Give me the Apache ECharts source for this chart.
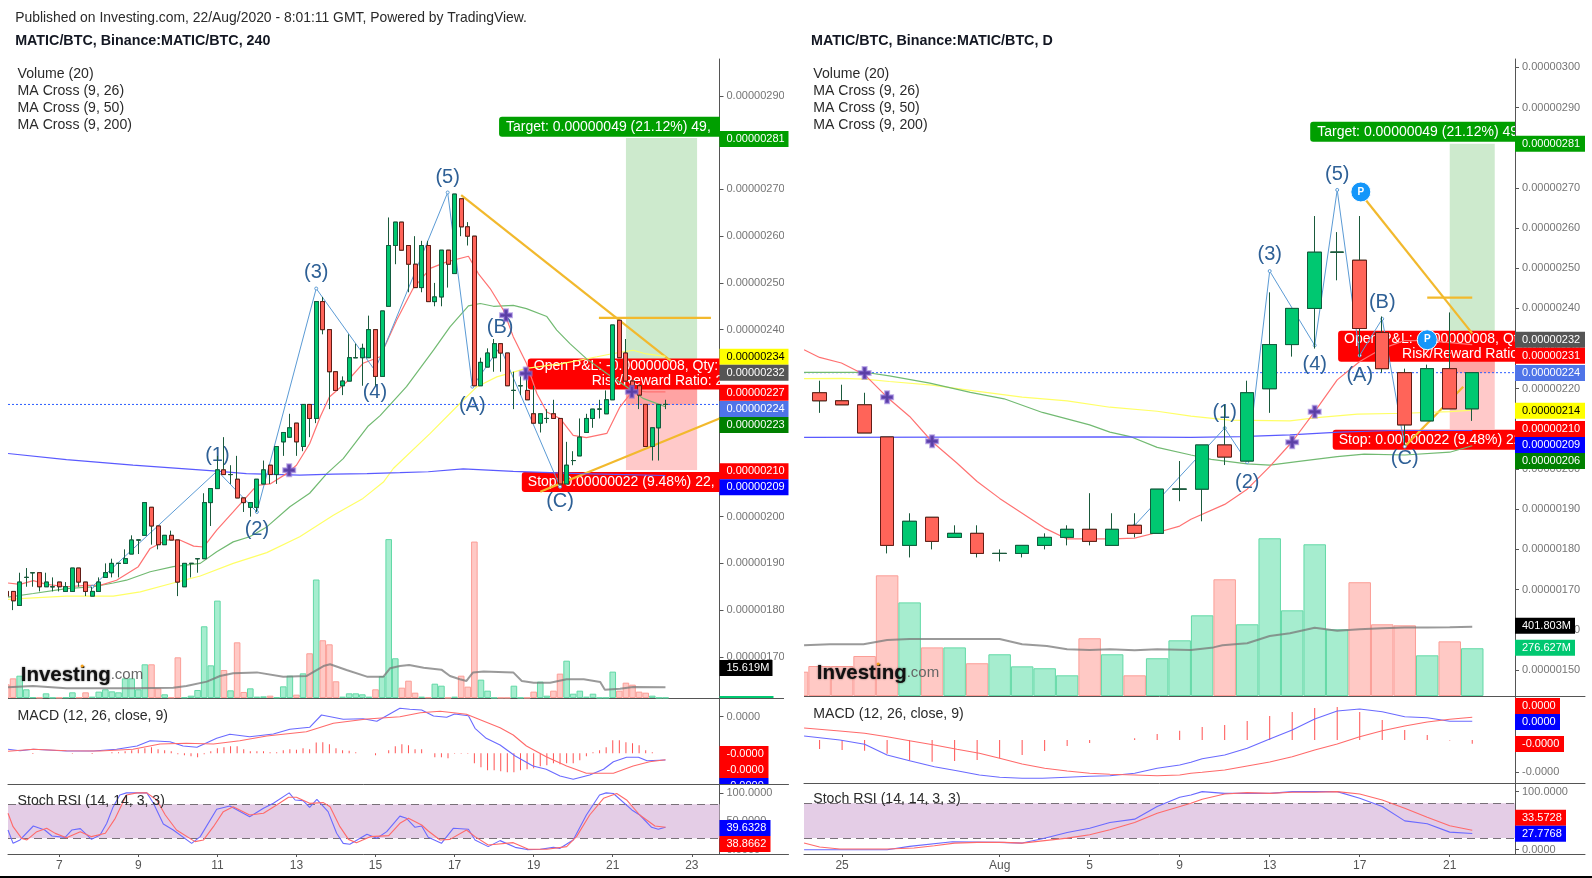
<!DOCTYPE html>
<html><head><meta charset="utf-8">
<style>html,body{margin:0;padding:0;background:#fff}#c{width:1592px;height:878px}</style>
<script src="https://cdn.jsdelivr.net/npm/echarts@6/dist/echarts.min.js"></script>
</head><body><div id="c"></div>
<script>
// ---------- LEFT CHART (240 min), prices in satoshi (1e-8 BTC) ----------
const leftDayTicks=[8,20,32,44,56,68,80,92,104];
const leftDayLabels=['7','9','11','13','15','17','19','21','23'];
const leftPriceTicks=[170,180,190,200,210,220,230,240,250,260,270,280,290];
const leftCandles=[[184,183,183,185],[184,182,180,184],[181,186,181,188],[187,187,185,189],[188,188,185,188],[188,185,184,188],[185,186,185,188],[185,185,184,187],[186,185,184,186],[184,185,184,186],[184,189,184,189],[189,186,185,189],[186,184,183,186],[183,184,183,185],[184,186,184,187],[187,188,187,190],[188,190,187,191],[190,190,187,190],[190,191,190,193],[192,195,192,196],[195,195,192,195],[196,203,196,203],[202,198,194,202],[198,194,193,198],[194,196,194,196],[196,195,195,197],[195,186,183,195],[185,190,185,190],[190,190,187,190],[191,191,188,191],[191,203,191,205],[203,206,198,206],[206,210,206,213],[210,209,209,217],[209,209,207,211],[208,204,204,213],[204,203,201,204],[202,203,200,203],[202,208,201,208],[207,210,207,212],[211,209,207,211],[209,215,207,215],[216,218,213,218],[217,219,217,222],[220,216,213,220],[215,224,214,224],[224,221,217,224],[221,246,220,246],[246,240,239,247],[240,231,223,240],[231,227,227,231],[228,229,226,230],[229,234,229,239],[234,234,234,237],[234,236,228,237],[234,240,234,243],[240,230,228,240],[230,244,230,244],[245,258,245,264],[258,263,254,263],[263,257,257,263],[258,254,248,258],[254,249,249,260],[249,258,248,259],[258,246,246,259],[246,247,245,250],[247,257,245,257],[257,254,249,257],[252,269,252,269],[268,262,260,268],[262,260,258,263],[260,228,228,260],[228,233,228,234],[232,235,232,236],[234,237,231,238],[237,235,231,237],[235,228,228,235],[227,227,223,231],[228,228,226,230],[227,225,225,230],[222,220,220,228],[220,222,218,222],[221,221,220,223],[222,221,221,225],[221,207,207,221],[207,211,207,216],[212,212,211,214],[213,217,213,221],[218,221,218,222],[221,223,219,223],[223,223,221,225],[222,225,222,227],[225,241,225,241],[242,234,234,242],[235,229,229,238],[229,228,228,229],[228,226,223,228],[224,215,215,224],[215,219,212,219],[219,224,212,224],[224,224,223,225]];
const leftVolume=[20,28.7,32.6,12.7,1,.5,6.8,.5,.5,1,8.3,1,8.3,2,9.3,12.7,9.7,8.3,28.7,28.7,12.7,49.2,49.2,14.1,5.4,1,59.4,1,3.4,11.7,104.7,47.7,142.2,40.9,11.2,81.3,8.8,14.1,2,2.4,3.4,1,17,32.6,4.9,36,65.3,173,84.3,78.4,24.4,2,6.8,6.8,5.4,2,12.7,32,232,58,15.1,25.3,7.8,2,1,20.9,18,.5,2,32.6,16.6,228.4,26.8,10.7,.5,.5,.5,18,.5,.5,9.3,23.9,3.4,10.7,35.6,54.5,6.3,10.7,2,6.3,.5,.5,38.5,10.7,22.4,19.5,9.3,7.8,3.4,.5,.5];
const leftVolMA=[[.23,15.6],[4,17.5],[9.1,14.1],[14.2,14.1],[19.2,14.1],[25.3,15.1],[27.3,17.5],[30.4,23.9],[32.4,32.1],[34.4,36],[38,37.4],[42,31],[45.5,32],[48.1,46.6],[49.1,49.2],[51.6,40.9],[54.7,31.2],[57.2,31.2],[58.2,43.3],[59.7,46.8],[61.1,48.2],[63.3,44.3],[66,41.4],[67.3,32.1],[68.8,27.3],[69.8,24.9],[70.8,37.4],[72.4,38.8],[76.9,37.4],[78.2,24.9],[80,22.4],[82.5,22.4],[85,27.3],[87.6,27.3],[90.1,23.4],[90.8,12.2],[93.1,13.6],[95.1,16.1],[100,15.6]];
const leftMA26=[[.23,185.8],[2.05,185.5],[4.07,186.3],[6.1,185.5],[9.1,185],[12.2,185.3],[14.2,185.3],[16.7,186.4],[20,189.3],[21.8,193.2],[24.3,195],[26.3,195],[28.4,193.7],[29.9,193.5],[31.9,197.1],[34.4,201],[38,206.7],[40,207],[42.5,209.2],[44,211],[46,215.6],[47.6,221.3],[49,225.6],[51.6,228.8],[54.1,232.8],[56.7,234.2],[59.2,242],[61.7,248.8],[64.3,253.1],[66.8,254.5],[70.1,255.7],[71.6,252],[73.4,248.8],[75.4,244.2],[76.9,238.5],[78.9,232.8],[80.5,226.3],[82,222.4],[84,221],[86,217.4],[88,216.9],[91.1,217.8],[93.1,223.5],[95.1,227],[97.1,226.7],[100,226.7]];
const leftMA50=[[.23,182.8],[4.07,183.55],[9.1,184.6],[13.2,185],[16.2,185.8],[18.2,186.4],[21.8,188.2],[25.3,189.3],[29.4,190],[31.9,192.5],[34.4,194.6],[36.9,195.7],[39.5,197.8],[43,202.1],[46,205],[48.6,209.2],[51.1,212.4],[54.9,219.4],[56.7,221.6],[60.7,227.8],[64.8,235.6],[67.3,240.6],[70.1,245.1],[71.9,245.6],[73.9,245],[76.9,245.2],[78.9,244.5],[82,242.8],[83.5,239.9],[85.5,237],[88,233.8],[91.1,230.6],[94.1,227.8],[96.6,225.3],[100,223.5]];
const leftMA200=[[.23,182.3],[4.07,182.6],[9.1,183],[16.2,183],[20.3,183.9],[25.3,185.8],[29.4,187.3],[34.4,190],[39.5,192.3],[44.5,195.7],[49.6,200.3],[54.1,203.9],[57.2,207.4],[58.7,210.3],[64.3,217.8],[68.8,224.2],[71.4,227.8],[74.4,229.9],[78.9,231.7],[84.5,232.8],[89.6,234.2],[92.1,234.9],[95.1,235.6],[97.1,234.8],[100,234.3]];
const leftLongMA=[[.23,213.5],[9.1,212.2],[19.2,211],[31.4,209.8],[36.4,209.2],[44.5,208.9],[49.6,209.1],[54.7,209.2],[59.7,209.4],[64,209.6],[69.3,210.2],[76.9,209.7],[87,209.2],[100,208.8]];
const leftWave=[[13,185],[32,209.8],[38,201],[47,248.8],[55.9,231.3],[66.95,269.35],[70.7,227.8],[74.9,236.3],[84,206.4]];
const leftWaveLabels=['','(1)','(2)','(3)','(4)','(5)','(A)','(B)','(C)'];
const leftOrange=[[[69,268.8],[100.8,233.3]],[[89.9,242.5],[106.9,242.5]],[[81,205.3],[108.2,221]]];
const leftCrosses=[[42.9,209.9],[75.8,243.1],[78.8,230.6],[94.9,226.7]];
const leftMacd=[[.23,4],[2.05,2.6],[4.07,4],[9.1,2.3],[13.2,2.3],[16.7,4],[19.8,7.3],[21.8,12.6],[24.8,11.6],[26.8,7.3],[28.9,6],[31.9,15],[33.9,19],[36.9,16.6],[40.5,19.3],[43,24],[46,26],[47.8,38.3],[51.1,34],[54.1,34.6],[56.2,32],[59.7,45],[61.2,44],[63,43.3],[64.8,37.3],[66.8,36],[68,39.3],[70.1,37.6],[71.1,25],[72.8,15],[74.9,8.3],[77.2,-2.7],[79.9,-12.7],[81.9,-16],[84,-22.7],[86,-26],[88.5,-21.7],[90.6,-16],[92.1,-8.4],[94.1,-4],[95.9,-4],[97.2,-7.4],[100,-6.7]];
const leftSignal=[[.23,2],[4.07,4],[9.1,2.6],[14.2,2.3],[19.2,4],[23.3,9.3],[27.3,10],[31.4,9.3],[35.4,12.6],[39.5,17.3],[45.5,21.6],[49.6,30],[54.7,34.3],[59.7,36.6],[62.8,40.6],[65.8,42],[69.8,39],[74.9,25.6],[76.9,18.3],[78.9,7.3],[81.9,-3.4],[85,-12.7],[88,-20],[92.1,-20],[95.1,-12.7],[97.6,-8.4],[100,-6.4]];
const leftHist=[0,0,0,0,-.7,0,0,0,0,0,-.5,0,0,-.7,0,0,1,1,2,3,4,5,6,4,3,2,-1,-2,-3,-4,-1,2,5,6,7,7,4,2,2,2,1,1,3,4,3.5,5,4,10.7,11,9,5,3,2.5,1,0,0,-2,0,3,7,9,8,4,4,0,-4,-4,-5,-.5,-.5,-.5,-10,-14,-17,-17,-18,-19,-19,-17,-16,-15,-13,-12,-10,-11,-10,-10,-7,-3,1,3,6,13,13,11,10,8,3,1,0,0];
const leftStochK=[[.23,34.5],[1,11],[2.05,17],[4.07,41.6],[5.8,34.5],[6.9,24],[8.9,21.6],[9.9,34.5],[11.2,36.9],[12.9,18],[14.2,25.7],[15.2,46],[16.2,75.7],[17.2,96.3],[18.2,100],[21.3,100],[22.3,81.6],[23.8,45],[25.3,34.5],[28.1,11],[29.4,22.8],[31.9,71],[33.9,76.9],[36.9,58],[39,72.8],[40.5,81.6],[42.9,100],[43.8,87.5],[45,86.3],[46,74.5],[47.1,88.7],[48.8,66.9],[50.1,28.7],[51.1,11],[52.1,9.3],[54.7,26.9],[56.2,19.9],[57.7,31.6],[59.7,59],[60.7,55.1],[62,39.3],[63,41.6],[64,21.6],[66,11],[67.8,37.5],[70.1,35.8],[71.1,17],[73.1,5.2],[74.9,15.8],[77.2,3.9],[79,0],[81,.6],[83,3.9],[84,2.2],[86,17],[88,61],[90,96.3],[91,100],[92.1,99],[94.9,69.9],[96.1,61],[97.9,39.3],[98.9,35.8],[100,39.3]];
const leftStochD=[[.23,64],[1,40.4],[2.3,19.8],[3.1,17],[4.6,31.6],[6.1,37.5],[7.4,28.6],[9.1,21],[11.2,31.6],[12.9,22.8],[15,28.7],[16.5,55.1],[18.2,96.3],[19.8,100],[21.3,100],[22.8,87.5],[24.1,61],[25.8,34.5],[28.6,14],[29.9,17],[31.4,40.4],[32.9,66.9],[34.4,75.7],[36.9,61],[39,64],[41,78.7],[42.8,92.2],[44,92.2],[46,81.6],[48.1,82.8],[49.1,75.7],[50.6,40.4],[51.9,18],[53.1,12.2],[55.2,22.8],[58,24.6],[59.7,46.3],[61,55.1],[63,43.4],[64,32.8],[65.8,17],[67.3,18],[69.8,34.5],[71.1,22.8],[73.1,8.1],[76.9,12.2],[79.2,.5],[82,.5],[85,5.2],[86.5,22.8],[88.5,61],[90.6,90.4],[92.6,99],[94.1,87.5],[96.1,61],[98.4,41.6],[100,39.3]];
const leftPosition=[94,104.8];
const leftPriceTagAt=[280.8,234.2,230.8,226.5,223,219.6,209.7,206.3,167.6,159.9];
const leftPriceTagText=['0.00000281','0.00000234','0.00000232','0.00000227','0.00000224','0.00000223','0.00000210','0.00000209','15.619M',''];
const leftMacdTagAt=[-.7,-16.7,-32.7];
const leftMacdTagText=['-0.0000','-0.0000','-0.0000'];
const leftStochTagAt=[38.1,9.9];
const leftStochTagText=['39.6328','38.8662'];
const leftBoxAt=[[74.75,283.4],[78.2,207.4],[79.1,230.5]];

// ---------- RIGHT CHART (daily) ----------
const rightDayTicks=[1,8,12,16,20,24,28];
const rightDayLabels=['25','Aug','5','9','13','17','21'];
const rightPriceTicks=[150,160,170,180,190,200,210,220,230,240,250,260,270,280,290,300];
const rightCandles=[[220,219,218,222],[219,217,214,222],[217,216,216,221],[216,209,209,219],[208,181,179,208],[181,187,178,189],[188,182,180,188],[183,184,183,186],[184,179,178,186],[179,179,177,180],[179,181,178,181],[181,183,180,184],[183,185,181,186],[185,182,181,194],[181,185,181,189],[186,184,183,189],[184,195,184,195],[195,195,192,202],[195,206,187,206],[206,203,201,216],[202,219,202,222],[220,231,214,244],[231,240,228,240],[240,254,230,263],[254,254,247,259],[252,235,228,263],[234,225,224,238],[224,211,206,225],[212,225,212,226],[225,215,215,239],[215,224,212,224]];
const rightVolume=[141,174,174,232,700,543,282,282,190,242,172,161,120,335,242,120,219,323,468,677,416,915,497,880,387,660,416,410,236,317,277];
const rightVolMA=[[-.69,294],[.46,300],[1.95,300],[3,325],[4,331],[8,331],[9,300],[10.1,290],[11,271],[12,267],[12.9,271],[14,265],[15,271],[16.5,267],[17.5,282],[17.9,294],[19,306],[20,348],[20.9,364],[22,396],[23,379],[24,387],[25,393],[26,398],[27,398],[28,399],[29,402]];
const rightMA26=[[-.69,229.7],[0,227.8],[.97,226.4],[2,223.5],[3,217.9],[4,213.1],[5,206.8],[6.1,201.5],[7,196.9],[8,192.7],[9,189],[10,185.3],[11,182.6],[12,182.6],[13,182.6],[14,182.8],[15,184.2],[16,185.8],[16.5,187.5],[18,191.2],[19,195],[20,200.6],[21,206.8],[22,214.3],[23,222.2],[24,226.8],[25,230],[26,232],[27,232],[28,231.5],[29,231]];
const rightMA50=[[-.69,224.1],[2,224.1],[3.1,223.2],[4.9,221.4],[6.7,219.1],[8.2,217.5],[9.9,214.1],[12,211],[12.9,209.2],[13.8,208.1],[15,205.4],[16.5,203.5],[17.4,202.4],[19,201.3],[20,201],[21.3,201.9],[23,203.1],[24.2,203.7],[26,203.5],[28,204.2],[29,205.8]];
const rightMA200=[[-.69,222.5],[1,222.6],[2,222.4],[3.1,221.8],[5,220.9],[6.7,219.6],[9,217.9],[11,217],[12.9,215.4],[15,214.4],[16.5,213.2],[18.2,212.2],[20.9,212],[22.1,212.8],[23.9,213.7],[26,213.9],[28,214.3],[29,214.7]];
const rightLongMA=[[-.69,207.9],[13,208],[16.5,207.9],[18.7,208.1],[20.9,208.5],[23.1,209.2],[25.4,209.6],[29,209.6]];
const rightWave=[[14,186],[18,210.2],[19,201.7],[20,249.3],[22,230.8],[23,269.5],[24,228.3],[25,237.4],[26,205.6]];
const rightWaveLabels=['','(1)','(2)','(3)','(4)','(5)','(A)','(B)','(C)'];
const rightOrange=[[[24.27,267],[29,233.8]],[[27,242.7],[29,242.7]],[[26,205.6],[28.6,220.5]]];
const rightCrosses=[[2,223.9],[3,217.9],[5,206.9],[21,206.7],[22,214.3]];
const rightPins=[[24.05,269],[27,232.2]];
const rightMacd=[[-.69,4],[.9,0],[2,-4.3],[3,-15],[4,-20.7],[5.1,-26.7],[6.1,-30.7],[7.1,-35],[8,-37.3],[9,-38.3],[9.9,-38.3],[11,-37.3],[12,-36.3],[12.9,-35.7],[14,-33.3],[15,-28.3],[16,-25],[16.5,-22.3],[17,-18.7],[18,-15],[19,-8.3],[20,1],[21,10],[22,21],[23,29],[24,31],[25,28.3],[26,23.3],[27,22.3],[28,18.7],[29,18.7]];
const rightSignal=[[-.69,12],[.9,9],[2,6.7],[3,3.3],[4,-.7],[5.1,-5],[6.1,-9.3],[7.1,-13.3],[8,-18.3],[9,-24],[10,-28.3],[11,-31],[12,-33.3],[12.9,-34.3],[14,-35],[15,-35.7],[16,-35],[16.5,-33.3],[17,-32.3],[18,-30],[19,-26],[20,-22],[21,-16.7],[22,-10],[23,-4],[24,3.3],[25,9.3],[26,14],[27,18],[28,20.7],[29,22.7]];
const rightHist=[0,-9,-10,-10.7,-13.7,-20.7,-21.7,-21,-20,-18.3,-15,-11,-6,-3,0,1.7,6,9.3,13,15,19,24,28,32,33,28,20,10,5,-.5,-3.7];
const rightStochK=[[-.69,0],[3,0],[4,5.7],[5.9,13.7],[8,12.6],[9,11.4],[9.9,18.9],[11,29.7],[12,37.1],[12.9,46.9],[14,52.6],[15,74.3],[16,90.3],[16.5,94.3],[17,100],[18,97.1],[19,97.1],[20,97.1],[21,100],[22,100],[23,100],[24,88.6],[25,74.3],[26,49.7],[27,44.6],[28,30.3],[29,27.8]];
const rightStochD=[[-.69,11.4],[0,4.6],[.9,1.2],[3,1.2],[4.2,2.9],[5.1,6.9],[6,11.4],[7,12.6],[8.2,12.6],[9,11.4],[11,20],[12,25.7],[12.9,34.3],[14,46.9],[15,62.9],[16.5,80],[17,86.9],[18,96],[19,98.3],[20,97.1],[21,98.9],[22,98.9],[23,100],[24,96],[25,85.7],[26,71.4],[27,56],[28,41.2],[29,33.6]];
const rightPosition=[28,30];
const rightPriceTagAt=[281,232.2,228.2,223.9,214.5,210,206,202,161,155.5];
const rightPriceTagText=['0.00000281','0.00000232','0.00000231','0.00000224','0.00000214','0.00000210','0.00000209','0.00000206','401.803M','276.627M'];
const rightMacdTagAt=[34,18,-4];
const rightMacdTagText=['0.0000','0.0000','-0.0000'];
const rightStochTagAt=[54.9,27.4];
const rightStochTagText=['33.5728','27.7768'];
const rightBoxAt=[[21.8,284],[22.8,207.3],[23.04,230.6]];

// ---------- shared ----------
const positionLevels={target:281,entry:232,now:224,stop:210};
const stochBand=[20,80];
const stochTicks=[0,50,100];
const boxText=['Target: 0.00000049 (21.12%) 49,','Stop: 0.00000022 (9.48%) 22,','Open P&L: -0.00000008, Qty:','Risk/Reward Ratio: 2'];
const legendLines=['Volume (20)','MA Cross (9, 26)','MA Cross (9, 50)','MA Cross (9, 200)'];
const headerText='Published on Investing.com, 22/Aug/2020 - 8:01:11 GMT, Powered by TradingView.';
const FONT='"Liberation Sans",Arial,sans-serif';
const C={up:'#00c871',down:'#ff6459',upB:'#125c3e',downB:'#641c16',wick:'#1a5a3c',red:'#ff7272',green:'#72ba72',yellow:'#ffff66',blue:'#5a5aff',orange:'#f2b92d',wave:'#5b9bd5',
  axis:'#555',tick:'#757575',macdB:'#6a6aff',macdR:'#ff6a6a',hist:'#ff5252'};

const grid=[],xAxis=[],yAxis=[],series=[],graphic=[];

function priceFmt(v){return (v*1e-8).toFixed(8);}
function tagSeries(xi,yi,at,text,bg,fg,w,z){
  series.push({type:'custom',xAxisIndex:xi,yAxisIndex:yi,clip:true,z:z||30,silent:true,
    data:at.map((v,i)=>[0,v,i]),encode:{x:0,y:1},
    renderItem(p,api){
      const c=api.coord([0,api.value(1)]),i=api.value(2);
      const width=Array.isArray(w)?w[i]:w;
      return {type:'group',children:[
        {type:'rect',shape:{x:c[0],y:c[1]-8,width:width,height:16},style:{fill:bg[i]}},
        {type:'text',style:{x:c[0]+7,y:c[1],text:text[i],fill:fg[i],font:'11px '+FONT,verticalAlign:'middle'}}
      ]};
    }});
}

function buildChart(k){
  const g0=grid.length,y0=yAxis.length;
  const panes=[k.paneP,k.paneM,k.paneS];
  panes.forEach((p,n)=>{
    grid.push({left:k.x0,width:k.x1-k.x0,top:p.top,height:p.bottom-p.top});
    xAxis.push({gridIndex:grid.length-1,type:'value',min:k.xMin,max:k.xMax,position:'bottom',
      axisLine:{show:true,onZero:false,lineStyle:{color:C.axis,width:1}},
      axisTick:{show:n==2,length:3,lineStyle:{color:C.axis},customValues:k.dayTicks},
      axisLabel:{show:n==2,customValues:k.dayTicks,margin:6,fontSize:12,color:'#555',fontFamily:FONT,formatter:v=>k.dayLabels[k.dayTicks.indexOf(v)]},
      splitLine:{show:false}});
    yAxis.push({gridIndex:grid.length-1,type:'value',position:'right',min:p.min,max:p.max,
      axisLine:{show:true,onZero:false,lineStyle:{color:C.axis,width:1}},
      axisTick:{show:true,length:4,lineStyle:{color:C.axis},customValues:p.ticks},
      axisLabel:{customValues:p.ticks,margin:7,fontSize:11,color:C.tick,fontFamily:FONT,formatter:p.fmt,hideOverlap:false},
      splitLine:{show:false}});
  });
  const xP=g0,xM=g0+1,xS=g0+2,yP=y0,yM=y0+1,yS=y0+2;
  // hidden volume axis on the price pane
  yAxis.push({gridIndex:g0,type:'value',show:false,min:0,max:k.volMax,position:'right',splitLine:{show:false}});
  const yV=yAxis.length-1;
  // tag columns
  const tagAxes=panes.map(p=>{
    grid.push({left:k.x1,width:k.tagW,top:p.top,height:p.bottom-p.top});
    xAxis.push({gridIndex:grid.length-1,type:'value',min:0,max:1,axisLine:{show:true,onZero:false,lineStyle:{color:C.axis,width:1}},axisTick:{show:false},axisLabel:{show:false},splitLine:{show:false}});
    yAxis.push({gridIndex:grid.length-1,type:'value',show:false,min:p.min,max:p.max,splitLine:{show:false}});
    return [xAxis.length-1,yAxis.length-1];
  });

  const xOf=i=>k.firstX+i;
  const onP={xAxisIndex:xP,yAxisIndex:yP};
  const lineS=(data,color,axes,z,w)=>({type:'line',...axes,data,showSymbol:false,symbol:'none',z:z||6,silent:true,lineStyle:{color,width:w||1}});

  // position zones
  series.push({type:'line',...onP,data:[],z:1,silent:true,
    markArea:{silent:true,z:1,data:[
      [{coord:[k.position[0],positionLevels.target],itemStyle:{color:'#cdeacd'}},{coord:[k.position[1],positionLevels.entry]}],
      [{coord:[k.position[0],positionLevels.entry],itemStyle:{color:'#ffc9c9'}},{coord:[k.position[1],positionLevels.stop]}],
      [{coord:[k.position[0],positionLevels.entry],itemStyle:{color:'#ffa3a3'}},{coord:[k.position[1],positionLevels.now]}]
    ]}});
  // plot boxes (Target / Stop / Open P&L)
  series.push({type:'custom',...onP,clip:true,z:2,silent:true,
    data:k.boxAt.map((b,i)=>[b[0],b[1],i]),encode:{x:0,y:1},
    renderItem(p,api){
      const c=api.coord([api.value(0),api.value(1)]),i=api.value(2);
      const h=i==2?31:20,bg=i==0?'#009f00':'#ff0000';
      const base={fill:'#fff',font:'14px '+FONT,verticalAlign:'middle'};
      const kids=[{type:'rect',shape:{x:c[0],y:c[1]-h/2,width:420,height:h,r:3},style:{fill:bg}}];
      if(i<2) kids.push({type:'text',style:{...base,x:c[0]+k.boxPad[i],y:c[1],text:boxText[i]}});
      else{
        kids.push({type:'text',style:{...base,x:c[0]+k.boxPad[2],y:c[1]-7.5,text:boxText[2]}});
        kids.push({type:'text',style:{...base,x:c[0]+k.boxPad[3],y:c[1]+7.5,text:boxText[3]}});
      }
      return {type:'group',children:kids};
    }});
  // volume bars
  series.push({type:'bar',xAxisIndex:xP,yAxisIndex:yV,barWidth:k.volW,z:3,silent:true,clip:true,
    data:k.volume.map((v,i)=>{const c=k.candles[i],dn=c[1]<c[0];return {value:[xOf(i),v],itemStyle:{color:dn?'#ffc9c5':'#a6edcf',borderColor:dn?'#fb9e97':'#62d9a6',borderWidth:1}};})});
  series.push(lineS(k.volMA,'rgba(120,120,120,.75)',{xAxisIndex:xP,yAxisIndex:yV},4,2));
  // current price dotted
  series.push({type:'line',...onP,data:[[k.xMin,positionLevels.now],[k.xMax,positionLevels.now]],symbol:'none',z:5,silent:true,lineStyle:{color:'#2a5cff',width:1,type:[2,2]}});
  // orange trend lines
  k.orange.forEach(seg=>series.push(lineS(seg,C.orange,onP,5,2.2)));
  // moving averages
  series.push(lineS(k.ma200,C.yellow,onP,6,1.2));
  series.push(lineS(k.ma50,C.green,onP,6,1.2));
  series.push(lineS(k.long,C.blue,onP,6,1.2));
  series.push(lineS(k.ma26,C.red,onP,6,1.2));
  // wave
  series.push({type:'line',...onP,z:6,silent:true,symbol:'circle',symbolSize:3,showSymbol:true,
    lineStyle:{color:C.wave,width:1},itemStyle:{color:'#fff',borderColor:C.wave,borderWidth:1},
    data:k.wave.map((w,i)=>({value:w,label:{show:!!k.waveLabels[i],formatter:k.waveLabels[i],position:k.wavePos[i][0],distance:k.wavePos[i][1],color:'#2e6096',fontSize:20,fontFamily:FONT}}))});
  // candles: wick layer + body layer
  series.push({type:'candlestick',...onP,z:7,barWidth:k.bodyW,silent:true,clip:true,
    data:k.candles.map((c,i)=>[xOf(i),c[0],c[1],c[2],c[3]]),
    itemStyle:{color:C.wick,color0:C.wick,borderColor:C.wick,borderColor0:C.wick,borderColorDoji:C.wick,borderWidth:1}});
  series.push({type:'candlestick',...onP,z:8,barWidth:k.bodyW,silent:true,clip:true,
    data:k.candles.map((c,i)=>[xOf(i),c[0],c[1],Math.min(c[0],c[1]),Math.max(c[0],c[1])]),
    itemStyle:{color:C.up,color0:C.down,borderColor:C.upB,borderColor0:C.downB,borderColorDoji:C.wick,borderWidth:1}});
  // crosses
  series.push({type:'scatter',...onP,z:9,silent:true,symbol:'path://M4 0h4v4h4v4h-4v4h-4v-4h-4v-4h4z',symbolSize:12,
    data:k.crosses,itemStyle:{color:'#5a3fa5',opacity:1,borderColor:'rgba(140,110,215,.55)',borderWidth:2}});
  if(k.pins) series.push({type:'scatter',...onP,z:10,silent:true,symbolSize:20,data:k.pins,
    itemStyle:{color:'#1496fa',opacity:1,borderColor:'#fff',borderWidth:1},
    label:{show:true,position:'inside',formatter:'P',color:'#fff',fontWeight:'bold',fontSize:10,fontFamily:FONT}});
  // price column tags
  tagSeries(tagAxes[0][0],tagAxes[0][1],k.priceTagAt,k.priceTagText,k.priceTagBg,k.priceTagFg,k.priceTagW);

  // MACD
  const onM={xAxisIndex:xM,yAxisIndex:yM};
  series.push({type:'bar',...onM,barWidth:1,z:3,silent:true,itemStyle:{color:C.hist},
    data:k.hist.map((v,i)=>[xOf(i),v]).filter(r=>r[1]!=0)});
  series.push(lineS(k.macdLine,C.macdB,onM,5,1.1));
  series.push(lineS(k.signal,C.macdR,onM,5,1.1));
  tagSeries(tagAxes[1][0],tagAxes[1][1],k.macdTagAt,k.macdTagText,k.macdTagBg,['#fff','#fff','#fff'],k.macdTagW);

  // Stoch RSI
  const onS={xAxisIndex:xS,yAxisIndex:yS};
  series.push({type:'line',...onS,data:[],z:1,silent:true,
    markArea:{silent:true,z:1,data:[[{coord:[k.xMin,stochBand[1]],itemStyle:{color:'#e4cde6'}},{coord:[k.xMax,stochBand[0]]}]]},
    markLine:{silent:true,z:2,symbol:'none',label:{show:false},lineStyle:{color:'#787078',type:[8,5],width:1},
      data:stochBand.map(v=>({yAxis:v}))}});
  series.push(lineS(k.stochK,C.macdB,onS,5,1.1));
  series.push(lineS(k.stochD,C.macdR,onS,5,1.1));
  tagSeries(tagAxes[2][0],tagAxes[2][1],k.stochTagAt,k.stochTagText,k.stochTagBg,['#fff','#fff'],k.stochTagW);

  // mask the part of the first candle/bar that runs past the pane's left edge
  graphic.push({type:'rect',z:20,silent:true,shape:{x:k.maskX,y:59,width:k.x0-k.maskX,height:640},style:{fill:'#fff'}});

  // texts
  const txt=(text,x,y,extra)=>graphic.push({type:'text',z:40,silent:true,style:{x,y,text,fill:'#2a2a2a',font:'14.1px '+FONT,verticalAlign:'middle',...extra}});
  legendLines.forEach((t,i)=>txt(t,k.legX,74.4+16.9*i));
  txt('MACD (12, 26, close, 9)',k.legX,k.macdLegY);
  txt('Stoch RSI (14, 14, 3, 3)',k.legX,k.stochLegY);
  txt(k.title,k.titleX,41.5,{font:'bold 14.3px '+FONT,fill:'#131722'});
  // watermark
  graphic.push({type:'text',z:41,silent:true,style:{x:k.logoX,y:k.logoY,verticalAlign:'middle',
    text:'{a|Investing}{b|.com}',rich:{a:{font:'bold 20.5px '+FONT,fill:'#111',textShadowColor:'rgba(0,0,0,.6)',textShadowBlur:2},b:{font:'15px '+FONT,fill:'#666'}}}});
  graphic.push({type:'circle',z:42,silent:true,shape:{cx:k.logoX+61.5,cy:k.logoY-9,r:1.6},style:{fill:'#f7a21b'}});
}

buildChart({
  x0:8,x1:719.5,tagW:69,maskX:0,xMin:.228,xMax:108.2,firstX:0,dayTicks:leftDayTicks,dayLabels:leftDayLabels,
  paneP:{top:59,bottom:698,min:161.2,max:297.9,ticks:leftPriceTicks,fmt:priceFmt},
  paneM:{top:698,bottom:784,min:-30.7,max:55.3,ticks:[36.6],fmt:v=>(v*1e-9).toFixed(4)},
  paneS:{top:784,bottom:854,min:-7.8,max:115.7,ticks:stochTicks,fmt:v=>v.toFixed(4)},
  volMax:933,candles:leftCandles,volume:leftVolume,volMA:leftVolMA,ma26:leftMA26,ma50:leftMA50,ma200:leftMA200,long:leftLongMA,
  wave:leftWave,waveLabels:leftWaveLabels,wavePos:[['top',3],['top',3],['bottom',6],['top',4],['bottom',10],['top',3],['bottom',7],['top',7],['bottom',3]],
  orange:leftOrange,crosses:leftCrosses,position:leftPosition,boxAt:leftBoxAt,boxPad:[7,6,6,64],
  volW:6.59,bodyW:4.5,
  priceTagAt:leftPriceTagAt,priceTagText:leftPriceTagText,
  priceTagBg:['#009f00','#ffff00','#555555','#ff0000','#4f74e8','#008000','#ff0000','#0000ff','#000000','#00c871'],
  priceTagFg:['#fff','#000','#fff','#fff','#fff','#fff','#fff','#fff','#fff','#fff'],priceTagW:[69,69,69,69,69,69,69,69,53,54],
  macdLine:leftMacd,signal:leftSignal,hist:leftHist,stochK:leftStochK,stochD:leftStochD,
  macdTagAt:leftMacdTagAt,macdTagText:leftMacdTagText,macdTagBg:['#ff0000','#ff0000','#0000ff'],macdTagW:49,
  stochTagAt:leftStochTagAt,stochTagText:leftStochTagText,stochTagBg:['#0000ff','#ff0000'],stochTagW:51,
  legX:17.6,macdLegY:716,stochLegY:801,title:'MATIC/BTC, Binance:MATIC/BTC, 240',titleX:15.2,logoX:20.7,logoY:675
});
buildChart({
  x0:804,x1:1515,tagW:70,maskX:784,xMin:-.693,xMax:30.9,firstX:-1,dayTicks:rightDayTicks,dayLabels:rightDayLabels,
  paneP:{top:59,bottom:696,min:143.5,max:302.1,ticks:rightPriceTicks,fmt:priceFmt},
  paneM:{top:696,bottom:783,min:-43,max:44,ticks:[-32.3],fmt:v=>(v*1e-9).toFixed(4)},
  paneS:{top:783,bottom:854,min:-7.4,max:114.9,ticks:stochTicks,fmt:v=>v.toFixed(4)},
  volMax:3695,candles:rightCandles,volume:rightVolume,volMA:rightVolMA,ma26:rightMA26,ma50:rightMA50,ma200:rightMA200,long:rightLongMA,
  wave:rightWave,waveLabels:rightWaveLabels,wavePos:[['top',3],['top',4],['bottom',8],['top',5],['bottom',7],['top',3],['bottom',8],['top',4],['bottom',0]],
  orange:rightOrange,crosses:rightCrosses,pins:rightPins,position:rightPosition,boxAt:rightBoxAt,boxPad:[7,6,6,64],
  volW:22.5,bodyW:14,
  priceTagAt:rightPriceTagAt,priceTagText:rightPriceTagText,
  priceTagBg:['#009f00','#555555','#ff0000','#4f74e8','#ffff00','#ff0000','#0000ff','#008000','#000000','#00c871'],
  priceTagFg:['#fff','#fff','#fff','#fff','#000','#fff','#fff','#fff','#fff','#fff'],priceTagW:[70,70,70,70,70,70,70,70,60,60],
  macdLine:rightMacd,signal:rightSignal,hist:rightHist,stochK:rightStochK,stochD:rightStochD,
  macdTagAt:rightMacdTagAt,macdTagText:rightMacdTagText,macdTagBg:['#ff0000','#0000ff','#ff0000'],macdTagW:[45,45,49],
  stochTagAt:rightStochTagAt,stochTagText:rightStochTagText,stochTagBg:['#ff0000','#0000ff'],stochTagW:51,
  legX:813.3,macdLegY:713.7,stochLegY:799.3,title:'MATIC/BTC, Binance:MATIC/BTC, D',titleX:811,logoX:816.7,logoY:673
});
graphic.push({type:'text',z:40,silent:true,style:{x:15.2,y:18,text:headerText,fill:'#2a2a2a',font:'13.9px '+FONT,verticalAlign:'middle'}});
graphic.push({type:'rect',z:40,silent:true,shape:{x:0,y:876,width:1592,height:2},style:{fill:'#000'}});

const chart=echarts.init(document.getElementById('c'),null,{renderer:'canvas',width:1592,height:878});
chart.setOption({animation:false,backgroundColor:'#fff',grid,xAxis,yAxis,series,graphic});
</script>
</body></html>
